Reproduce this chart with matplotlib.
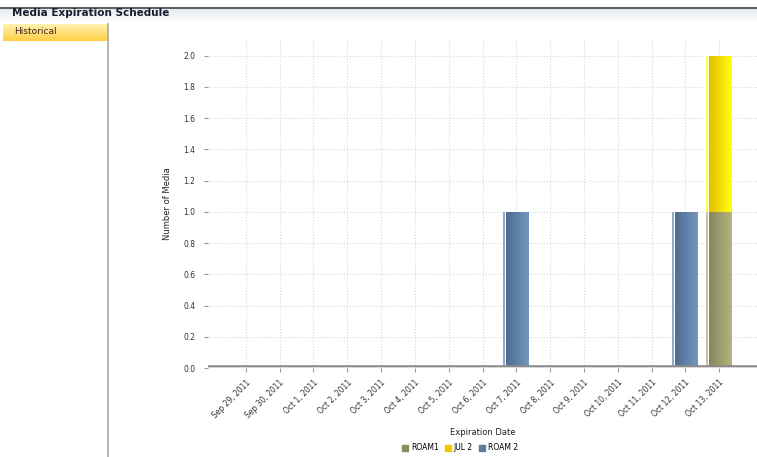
import numpy as np
import matplotlib
matplotlib.use("Agg")
import matplotlib.pyplot as plt
from matplotlib.patches import Rectangle

dates = ["Sep 29, 2011", "Sep 30, 2011", "Oct 1, 2011", "Oct 2, 2011", "Oct 3, 2011",
         "Oct 4, 2011", "Oct 5, 2011", "Oct 6, 2011", "Oct 7, 2011", "Oct 8, 2011",
         "Oct 9, 2011", "Oct 10, 2011", "Oct 11, 2011", "Oct 12, 2011", "Oct 13, 2011"]
series_names = ["ROAM1", "JUL 2", "ROAM 2"]
roam1 = [0, 0, 0, 0, 0, 0, 0, 0, 0, 0, 0, 0, 0, 0, 1]
jul2 = [0, 0, 0, 0, 0, 0, 0, 0, 0, 0, 0, 0, 0, 0, 1]
roam2 = [0, 0, 0, 0, 0, 0, 0, 0, 1, 0, 0, 0, 0, 1, 0]

# colours: (dark edge, light edge) for the shaded bars
shades = [("#86865a", "#b4b482"), ("#e6bd00", "#ffff10"), ("#4e6d8f", "#7296bd")]
legend_cols = ["#8c8c62", "#f0c800", "#5a7a9e"]

fig = plt.figure(figsize=(7.57, 4.57), dpi=100)

# page header and side panel
hdr = np.linspace(0, 1, 50).reshape(-1, 1)
hax = fig.add_axes([0, 1 - 21 / 457, 1, 13 / 457])
hax.imshow(hdr, aspect="auto", cmap=matplotlib.colors.LinearSegmentedColormap.from_list(
    "h", ["#e6eaf0", "#fbfcfd"]), extent=[0, 1, 0, 1])
hax.set_axis_off()
fig.add_artist(plt.Line2D([0, 1], [1 - 8 / 457, 1 - 8 / 457], color="#606060", lw=1.5))
fig.text(12 / 757, 1 - 13 / 457, "Media Expiration Schedule", fontsize=7.5,
         fontweight="bold", color="#1a1a30", va="center")

tax = fig.add_axes([3 / 757, 1 - 41 / 457, 105 / 757, 17 / 457])
tax.imshow(hdr, aspect="auto", cmap=matplotlib.colors.LinearSegmentedColormap.from_list(
    "t", ["#fff2b0", "#ffcf45"]), extent=[0, 1, 0, 1])
tax.set_axis_off()
fig.text(14 / 757, 1 - 32 / 457, "Historical", fontsize=6.5, color="#402020", va="center")
fig.add_artist(plt.Line2D([108.5 / 757, 108.5 / 757], [0, 1 - 24 / 457], color="#a8a8a8", lw=1.2))

ax = fig.add_axes([208 / 757, 89 / 457, 549 / 757, 328 / 457])
x = np.arange(len(dates))
w = 0.77
grad = np.linspace(0, 1, 64).reshape(1, -1)


def shaded_bars(vals, bottom, shade):
    bars = ax.bar(x, vals, w, bottom=bottom, color="none", edgecolor="none")
    cmap = matplotlib.colors.LinearSegmentedColormap.from_list("s", list(shade))
    for b, v in zip(bars, vals):
        if v == 0:
            continue
        x0, y0 = b.get_x(), b.get_y()
        bw, bh = b.get_width(), b.get_height()
        # thin light strip on the left, then the main bar
        ax.add_patch(Rectangle((x0, y0), bw * 0.06, bh, color=shade[1], lw=0, alpha=0.8))
        im = ax.imshow(grad, aspect="auto", cmap=cmap,
                       extent=[x0 + bw * 0.12, x0 + bw, y0, y0 + bh], zorder=2)
        im.set_clip_path(b)


shaded_bars(roam1, 0, shades[0])
shaded_bars(jul2, roam1, shades[1])
shaded_bars(roam2, 0, shades[2])

ax.set_xlim(-1.12, len(dates) - 1 + 1.12)
ax.set_ylim(0, 2.1)
ax.set_yticks(np.arange(0, 2.01, 0.2))
ax.set_yticklabels([f"{v:.1f}" for v in np.arange(0, 2.01, 0.2)], fontsize=5.5, color="#333333")
ax.set_xticks(x)
ax.set_xticklabels(dates, rotation=45, ha="right", rotation_mode="anchor", fontsize=5.5,
                   color="#333333")
ax.tick_params(axis="y", length=3, color="#999999", pad=6)
ax.tick_params(axis="x", length=3, color="#999999", pad=4)
ax.grid(True, color="#d8d8d8", linestyle=":", linewidth=0.8)
ax.set_axisbelow(True)
for s in ax.spines.values():
    s.set_visible(False)
ax.axhline(0, color="#8a8a8a", lw=4, zorder=3)
ax.axhline(0, color="#e8e8e8", lw=1.2, zorder=4)

ax.set_xlabel("Expiration Date", fontsize=6, color="#222222", labelpad=6)
ax.set_ylabel("Number of Media", fontsize=6, color="#222222", labelpad=8)

handles = [Rectangle((0, 0), 1, 1, color=c) for c in legend_cols]
fig.legend(handles, series_names, loc="center", bbox_to_anchor=(460 / 757, 9 / 457), ncol=3,
           frameon=False, fontsize=5.5, handlelength=0.8, handleheight=0.8,
           handletextpad=0.4, columnspacing=0.8)

fig.savefig("out.png", dpi=100)
